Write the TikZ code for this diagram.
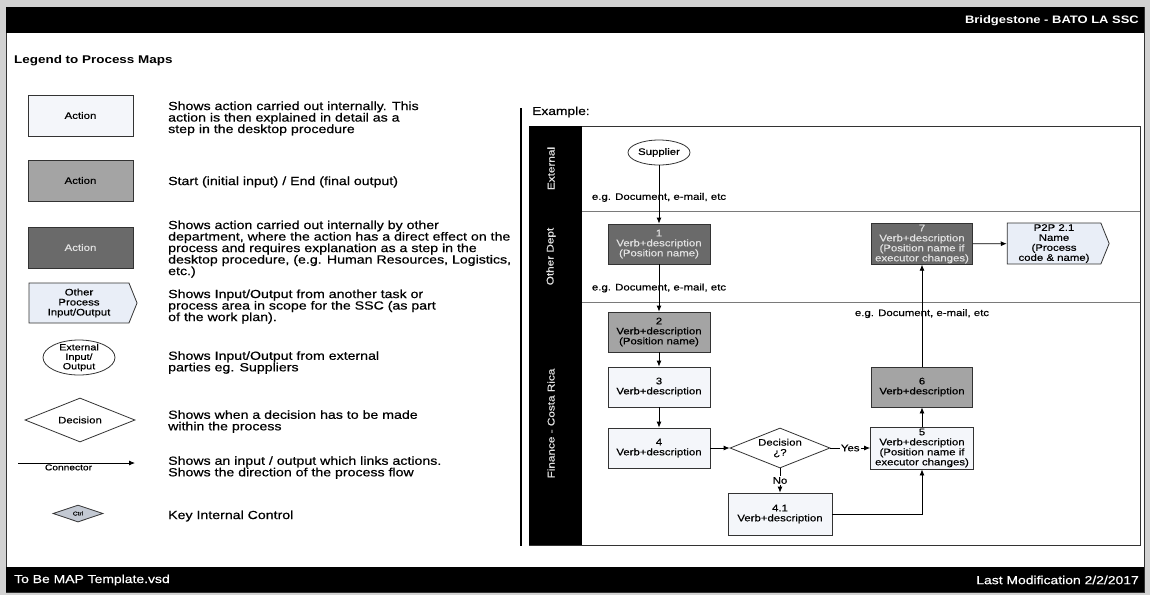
\documentclass[tikz,border=0pt]{standalone}
\usepackage{fontspec}
\setmainfont[FakeStretch=1.2, UprightFeatures={FakeBold=0.5}]{Liberation Sans}
\usetikzlibrary{shapes.geometric,shapes.symbols,arrows.meta}

\definecolor{pagegray}{HTML}{D2D2D2}
\definecolor{boxline}{HTML}{333333}
\definecolor{lightfill}{HTML}{F4F6FA}
\definecolor{iofill}{HTML}{E9EEF7}
\definecolor{midfill}{HTML}{A4A4A4}
\definecolor{darkfill}{HTML}{6A6A6A}
\definecolor{darktext}{HTML}{E2E2E2}
\definecolor{ctrlfill}{HTML}{C3C9D3}
\definecolor{laneline}{HTML}{7A7A7A}

\newcommand\fsz[2]{\fontsize{#1}{#2}\selectfont}

\begin{document}
\begin{tikzpicture}[x=1pt,y=-1pt,
  shapebase/.style={draw=boxline, line width=0.8pt, inner sep=1pt, align=center,
                    font=\fsz{9.5}{10}},
  actbox/.style={shapebase, rectangle, minimum width=102pt, minimum height=40pt},
  lightbox/.style={actbox, fill=lightfill},
  midbox/.style={actbox, fill=midfill},
  darkbox/.style={actbox, fill=darkfill, text=darktext},
  iobox/.style={shapebase, signal, signal to=east, signal pointer angle=136,
                fill=iofill, minimum width=104pt, minimum height=41pt},
  extshape/.style={shapebase, ellipse, fill=white},
  decshape/.style={shapebase, diamond, aspect=2.5, inner sep=0pt, fill=white},
  ctrlshape/.style={shapebase, diamond, aspect=3, inner sep=0pt, fill=ctrlfill,
                    font=\fsz{5.5}{6}},
  desc/.style={anchor=west, align=left, inner sep=0pt, font=\fsz{11.8}{11.5}},
  lanelabel/.style={rotate=90, text=darktext, font=\fsz{9.8}{10}},
  flow/.style={line width=0.8pt, -{Latex[length=6pt,width=5pt]}},
  flowlabel/.style={font=\fsz{9.5}{10}, inner sep=1pt},
  branchlabel/.style={font=\fsz{9.5}{10}, inner sep=1pt, fill=white}
]
\useasboundingbox (0,0) rectangle (1150,595);

% sheet, header and footer bars
\fill[pagegray] (0,0) rectangle (1150,595);
\draw[fill=white, draw=boxline, line width=0.6pt] (6,7) rectangle (1144,592);
\fill[black] (6,7) rectangle (1144,33);
\fill[black] (6,567) rectangle (1144,592);
\node[anchor=east, inner sep=0pt, text=white, font=\fsz{10.8}{11}\bfseries] (hdr) at (1139,21)
  {Bridgestone - BATO LA SSC};
\node[anchor=west, inner sep=0pt, text=white, font=\fsz{11.6}{12}] (ftl) at (14,580)
  {To Be MAP Template.vsd};
\node[anchor=east, inner sep=0pt, text=white, font=\fsz{11.6}{12}] (ftr) at (1139,580)
  {Last Modification 2/2/2017};

% legend
\node[anchor=west, inner sep=0pt, font=\fsz{11.2}{12}\bfseries] (ttl) at (14,61) {Legend to Process Maps};

\node[lightbox, minimum width=105pt, minimum height=41pt] (lact) at (80.5,115.5) {Action};
\node[desc] (d1) at (168,118.5) {Shows action carried out internally. This\\
  action is then explained in detail as a\\step in the desktop procedure};

\node[midbox, minimum width=105pt, minimum height=41pt] (lstart) at (80.5,180.5) {Action};
\node[desc] (d2) at (168,182) {Start (initial input) / End (final output)};

\node[darkbox, minimum width=105pt, minimum height=41pt] (lother) at (80.5,247.5) {Action};
\node[desc] (d3) at (168,249) {Shows action carried out internally by other\\
  department, where the action has a direct effect on the\\
  process and requires explanation as a step in the\\
  desktop procedure, (e.g. Human Resources, Logistics,\\etc.)};

\node[iobox, minimum width=108pt, minimum height=40pt] (lio) at (79,303) {Other\\Process\\Input/Output};
\node[desc] (d4) at (168,306.5) {Shows Input/Output from another task or\\
  process area in scope for the SSC (as part\\of the work plan).};

\node[extshape, minimum width=72pt, minimum height=35pt] (lext) at (79,357.5) {};
\node[font=\fsz{9}{9.5}, align=center, inner sep=0pt] (lextt) at (lext.center) {External\\Input/\\Output};
\node[desc] (d5) at (168,362.5) {Shows Input/Output from external\\parties eg. Suppliers};

\node[decshape, minimum width=110pt, minimum height=44pt] (ldec) at (80,420) {Decision};
\node[desc] (d6) at (168,421.5) {Shows when a decision has to be made\\within the process};

\coordinate (lca) at (18,463);
\coordinate (lcb) at (135,463);
\draw[flow] (lca) -- node[below=0pt, font=\fsz{8.5}{9}, inner sep=1pt, xshift=-8pt] {Connector} (lcb);
\node[desc] (d7) at (168,467.5) {Shows an input / output which links actions.\\
  Shows the direction of the process flow};

\node[ctrlshape, minimum width=50pt, minimum height=17pt] (lctrl) at (78,513.5) {Ctrl};
\node[desc] (d8) at (168,516) {Key Internal Control};

% example: swim lanes
\draw[line width=2.6pt] (521,108) -- (521,546);
\node[anchor=west, inner sep=0pt, font=\fsz{11.5}{12}] (exm) at (532,112) {Example:};
\draw[draw=boxline, line width=0.7pt] (529,126) rectangle (1140,545);
\fill[black] (529,126) rectangle (582,545);
\draw[laneline, line width=0.7pt] (582,211) -- (1140,211);
\draw[laneline, line width=0.7pt] (582,302) -- (1140,302);
\node[lanelabel] (lnext) at (551,168.5) {External};
\node[lanelabel] (lnoth) at (551,256.5) {Other Dept};
\node[lanelabel] (lnfin) at (551,423.5) {Finance - Costa Rica};

% example: process steps
\node[extshape, minimum width=62pt, minimum height=25pt] (sup) at (659,152.5) {Supplier};
\node[darkbox] (b1) at (659,244) {1\\Verb+description\\(Position name)};
\node[midbox] (b2) at (659,332) {2\\Verb+description\\(Position name)};
\node[lightbox] (b3) at (659,387) {3\\Verb+description};
\node[lightbox] (b4) at (659,448) {4\\Verb+description};
\node[decshape, minimum width=100pt, minimum height=40pt] (dec) at (780,448) {Decision\\¿?};
\node[lightbox, minimum width=104pt, minimum height=42pt] (b41) at (780,514) {4.1\\Verb+description};
\node[lightbox, minimum width=103pt, minimum height=42pt] (b5) at (922,448)
  {5\\Verb+description\\(Position name if\\executor changes)};
\node[midbox, minimum width=101pt] (b6) at (922,387) {6\\Verb+description};
\node[darkbox, minimum width=101pt] (b7) at (922,244)
  {7\\Verb+description\\(Position name if\\executor changes)};
\node[iobox, minimum width=102pt] (p2p) at (1054,243.5) {P2P 2.1\\Name\\(Process\\code \& name)};

% example: connectors
\draw[flow] (sup) -- node[flowlabel, pos=0.55] {e.g. Document, e-mail, etc} (b1);
\draw[flow] (b1) -- node[flowlabel] {e.g. Document, e-mail, etc} (b2);
\draw[flow] (b2) -- (b3);
\draw[flow] (b3) -- (b4);
\draw[flow] (b4) -- (dec);
\draw[flow] (dec) -- node[branchlabel] {Yes} (b5);
\draw[flow] (dec) -- node[branchlabel] {No} (b41);
\draw[flow] (b41.east) -| (b5.south);
\draw[flow] (b5) -- (b6);
\draw[flow] (b6) -- node[flowlabel, pos=0.52] {e.g. Document, e-mail, etc} (b7);
\draw[flow] (b7) -- (p2p);
\end{tikzpicture}
\end{document}
